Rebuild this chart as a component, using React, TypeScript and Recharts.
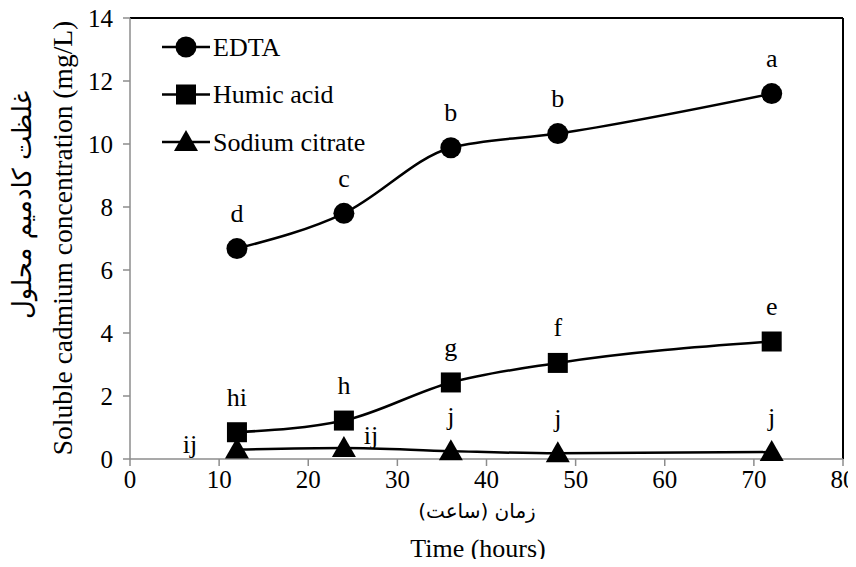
import React from 'react';
import { LineChart, Line, XAxis, YAxis, ReferenceLine, LabelList, Label } from 'recharts';

const hours = [12, 24, 36, 48, 72];
const edta = [6.68, 7.8, 9.88, 10.33, 11.6];
const humic = [0.85, 1.22, 2.43, 3.05, 3.73];
const citrate = [0.3, 0.35, 0.25, 0.18, 0.22];
const edtaLetters = ['d', 'c', 'b', 'b', 'a'];
const humicLetters = ['hi', 'h', 'g', 'f', 'e'];
const citrateLetters = ['ij', 'ij', 'j', 'j', 'j'];
const xTicks = [0, 10, 20, 30, 40, 50, 60, 70, 80];
const yTicks = [0, 2, 4, 6, 8, 10, 12, 14];
const seriesNames = ['EDTA', 'Humic acid', 'Sodium citrate'];
const yTitleEn = 'Soluble cadmium concentration (mg/L)';
const yTitleFa = 'غلظت کادمیم محلول';
const xTitleEn = 'Time (hours)';
const xTitleFa = 'زمان (ساعت)';

const data = hours.map((h, i) => ({
  hour: h,
  edta: edta[i],
  humic: humic[i],
  citrate: citrate[i],
  edtaL: edtaLetters[i],
  humicL: humicLetters[i],
  citrateL: citrateLetters[i],
}));

const SERIF = "'Liberation Serif', 'Times New Roman', serif";
const ARABIC = "'DejaVu Sans', sans-serif";
const AXIS_GRAY = '#8c8c8c';
const FS = 26;
const TICK_FS = 25;
const serifStyle = { fontFamily: SERIF, fontSize: FS };

const CircleDot = (p: any) => {
  if (p.cx == null || p.cy == null) return null;
  return <circle cx={p.cx} cy={p.cy} r={10.5} fill="#000" />;
};
const SquareDot = (p: any) => {
  if (p.cx == null || p.cy == null) return null;
  return <rect x={p.cx - 10} y={p.cy - 10} width={20} height={20} fill="#000" />;
};
const TriDot = (p: any) => {
  if (p.cx == null || p.cy == null) return null;
  const cx = p.cx, cy = p.cy;
  return <polygon points={`${cx},${cy - 12} ${cx - 12},${cy + 9} ${cx + 12},${cy + 9}`} fill="#000" />;
};

const XTick = (p: any) => (
  <text x={p.x} y={p.y} dy={18} textAnchor="middle" fill="#000"
    style={{ fontFamily: SERIF, fontSize: TICK_FS }}>{p.payload.value}</text>
);
const YTick = (p: any) => (
  <text x={p.x} y={p.y} textAnchor="end" dominantBaseline="central" fill="#000"
    style={{ fontFamily: SERIF, fontSize: TICK_FS }}>{p.payload.value}</text>
);

const makeLabel = (offsets: Record<number, [number, number]>) => (props: any) => {
  const { x, y, value, index } = props;
  if (x == null || y == null) return null;
  const off = offsets[index] || [0, -35];
  return (
    <text x={x + off[0]} y={y + off[1]} textAnchor="middle" dominantBaseline="central"
      fill="#000" style={serifStyle}>{value}</text>
  );
};

const LegendBox = () => {
  const rows = [
    { name: seriesNames[0], shape: 'circle' },
    { name: seriesNames[1], shape: 'square' },
    { name: seriesNames[2], shape: 'tri' },
  ];
  return (
    <svg width={270} height={150} style={{ display: 'block' }}>
      {rows.map((r, i) => {
        const cy = 27 + i * 47.5;
        const cx = 36;
        return (
          <g key={r.name}>
            <line x1={12} x2={60} y1={cy} y2={cy} stroke="#000" strokeWidth={2.5} />
            {r.shape === 'circle' && <circle cx={cx} cy={cy} r={10.5} fill="#000" />}
            {r.shape === 'square' && <rect x={cx - 10} y={cy - 10} width={20} height={20} fill="#000" />}
            {r.shape === 'tri' && <polygon points={`${cx},${cy - 12} ${cx - 12},${cy + 9} ${cx + 12},${cy + 9}`} fill="#000" />}
            <text x={63} y={cy} dominantBaseline="central" fill="#000" style={serifStyle}>{r.name}</text>
          </g>
        );
      })}
    </svg>
  );
};

const YTitle = () => (
  <g>
    <text transform="translate(62,238) rotate(-90)" textAnchor="middle" dominantBaseline="central"
      fill="#000" style={{ fontFamily: SERIF, fontSize: 27.5 }}>{yTitleEn}</text>
    <text transform="translate(22,205) rotate(-90)" textAnchor="middle" dominantBaseline="central"
      fill="#000" style={{ fontFamily: ARABIC, fontSize: 26 }}>{yTitleFa}</text>
  </g>
);

const XTitle = () => (
  <g>
    <text x={477} y={511} textAnchor="middle" dominantBaseline="central"
      fill="#000" style={{ fontFamily: ARABIC, fontSize: 20 }}>{xTitleFa}</text>
    <text x={478} y={548} textAnchor="middle" dominantBaseline="central"
      fill="#000" style={serifStyle}>{xTitleEn}</text>
  </g>
);

export default function App() {
  return (
    <div style={{ margin: -8, width: 856, height: 567, background: '#fff', position: 'relative' }}>
      <LineChart width={856} height={567} data={data}
        margin={{ top: 18, right: 13, left: 0, bottom: 0 }}>
        <XAxis dataKey="hour" type="number" domain={[0, 80]} ticks={xTicks} height={108}
          stroke={AXIS_GRAY} strokeWidth={1.5} tickSize={7} tickMargin={4}
          tick={<XTick />} allowDataOverflow>
          <Label content={XTitle} />
        </XAxis>
        <YAxis type="number" domain={[0, 14]} ticks={yTicks} width={130}
          stroke={AXIS_GRAY} strokeWidth={1.5} tickSize={7} tickMargin={10}
          tick={<YTick />}>
          <Label content={YTitle} />
        </YAxis>
        <ReferenceLine y={14} stroke="#000" strokeWidth={2} />
        <ReferenceLine x={80} stroke="#000" strokeWidth={2} />
        <Line dataKey="edta" type="monotone" stroke="#000" strokeWidth={2.5} dot={<CircleDot />}
          activeDot={false} isAnimationActive={false} name={seriesNames[0]}>
          <LabelList dataKey="edtaL" content={makeLabel({})} />
        </Line>
        <Line dataKey="humic" type="monotone" stroke="#000" strokeWidth={2.5} dot={<SquareDot />}
          activeDot={false} isAnimationActive={false} name={seriesNames[1]}>
          <LabelList dataKey="humicL" content={makeLabel({})} />
        </Line>
        <Line dataKey="citrate" type="monotone" stroke="#000" strokeWidth={2.5} dot={<TriDot />}
          activeDot={false} isAnimationActive={false} name={seriesNames[2]}>
          <LabelList dataKey="citrateL" content={makeLabel({ 0: [-47, -5], 1: [27, -12] })} />
        </Line>
      </LineChart>
      <div style={{ position: 'absolute', left: 150, top: 20 }}>
        <LegendBox />
      </div>
    </div>
  );
}
